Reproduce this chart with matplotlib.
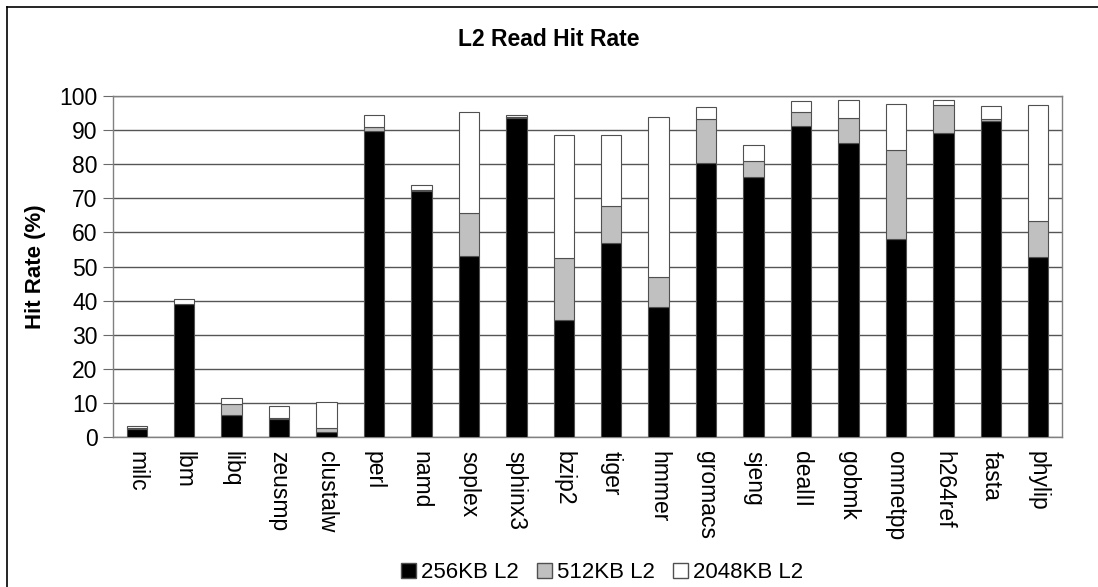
import matplotlib
matplotlib.use("Agg")
import matplotlib.pyplot as plt
from matplotlib.patches import Patch
from matplotlib.lines import Line2D
import numpy as np

plt.rcParams['font.family'] = ['Liberation Sans', 'DejaVu Sans']

benchmarks = ["milc", "lbm", "libq", "zeusmp", "clustalw", "perl", "namd", "soplex",
              "sphinx3", "bzip2", "tiger", "hmmer", "gromacs", "sjeng", "dealII",
              "gobmk", "omnetpp", "h264ref", "fasta", "phylip"]
hit_256kb = [2.3, 38.9, 6.5, 5.3, 1.4, 89.7, 72.2, 53.1, 93.6, 34.4, 57.0, 38.2,
             80.4, 76.1, 91.1, 86.3, 58.2, 89.2, 92.7, 52.7]
hit_512kb = [2.7, 39.0, 9.8, 5.7, 2.6, 90.9, 72.3, 65.8, 93.7, 52.5, 67.8, 46.8,
             93.3, 81.0, 95.3, 93.5, 84.1, 97.3, 93.3, 63.4]
hit_2048kb = [3.1, 40.6, 11.4, 9.0, 10.4, 94.4, 74.0, 95.3, 94.5, 88.5, 88.5, 93.9,
              96.9, 85.7, 98.6, 98.9, 97.8, 98.7, 97.2, 97.5]
series_labels = ["256KB L2", "512KB L2", "2048KB L2"]
yticks = list(range(0, 101, 10))

W, H = 1098, 587
fig = plt.figure(figsize=(W / 100, H / 100), dpi=100)
ax = fig.add_axes([113 / W, 1 - 437 / H, (1062 - 113) / W, (437 - 96) / H])

x = np.arange(len(benchmarks))
bw = 0.43
edge = '#505050'
a = np.array(hit_256kb)
b = np.array(hit_512kb)
c = np.array(hit_2048kb)
ax.bar(x, a, bw, color='black', edgecolor=edge, linewidth=0.8, zorder=3)
ax.bar(x, b - a, bw, bottom=a, color='#c0c0c0', edgecolor=edge, linewidth=0.8, zorder=3)
ax.bar(x, c - b, bw, bottom=b, color='white', edgecolor=edge, linewidth=0.8, zorder=3)

ax.set_xlim(-0.5, len(benchmarks) - 0.5)
ax.set_ylim(0, 100)
ax.set_yticks(yticks)
ax.yaxis.grid(True, color='#555555', linewidth=1.0, zorder=0)
ax.set_axisbelow(True)
ax.set_xticks(x)
ax.set_xticklabels(benchmarks, rotation=-90, fontsize=16.5)
ax.tick_params(axis='x', length=0, pad=10)
ax.tick_params(axis='y', length=7, color='#6a6a6a', labelsize=16.5, pad=4)
for s in ax.spines.values():
    s.set_color('#808080')
    s.set_linewidth(1.0)

ax.set_ylabel("Hit Rate (%)", fontsize=16, fontweight='bold', labelpad=10)
fig.text(0.5, 1 - 39 / H, "L2 Read Hit Rate", ha='center', va='center',
         fontsize=16.5, fontweight='bold')

handles = [Patch(facecolor='black', edgecolor=edge),
           Patch(facecolor='#c0c0c0', edgecolor=edge),
           Patch(facecolor='white', edgecolor=edge)]
fig.legend(handles, series_labels, loc='center', bbox_to_anchor=(602 / W, 1 - 573 / H),
           ncol=3, frameon=False, fontsize=16, handlelength=0.68, handleheight=0.68,
           handletextpad=0.23, columnspacing=0.8, borderpad=0)

# outer frame (left and top edges visible)
fig.add_artist(Line2D([7 / W, 7 / W], [0, 1 - 7 / H], color='black', lw=1.2,
                      transform=fig.transFigure))
fig.add_artist(Line2D([7 / W, 1], [1 - 7 / H, 1 - 7 / H], color='black', lw=1.2,
                      transform=fig.transFigure))

fig.savefig("out.png", dpi=100)
